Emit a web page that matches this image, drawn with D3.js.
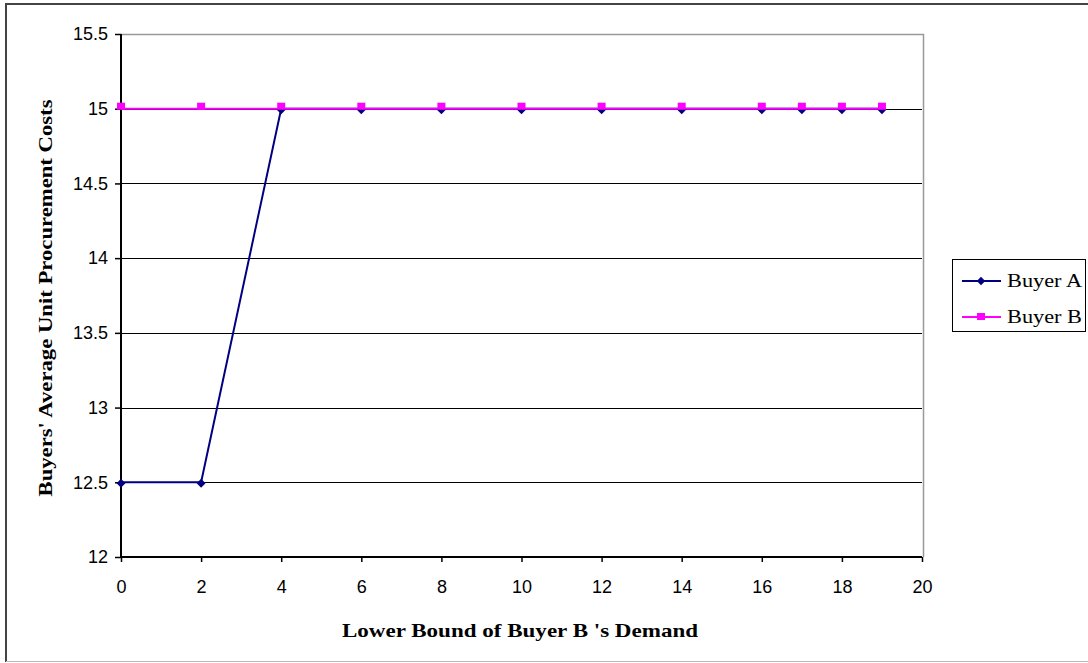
<!DOCTYPE html>
<html>
<head>
<meta charset="utf-8">
<script src="https://cdn.jsdelivr.net/npm/d3@7"></script>
<style>
  body { margin: 0; background: #fff; }
  svg { display: block; }
</style>
</head>
<body>
<div id="graph"></div>
<script>
// chart data
var xValues = [0, 2, 4, 6, 8, 10, 12, 14, 16, 17, 18, 19];
var buyerA = [12.5, 12.5, 15, 15, 15, 15, 15, 15, 15, 15, 15, 15];
var buyerB = [15, 15, 15, 15, 15, 15, 15, 15, 15, 15, 15, 15];
var seriesNames = ["Buyer A", "Buyer B"];
var xTicks = [0, 2, 4, 6, 8, 10, 12, 14, 16, 18, 20];
var yTicks = [12, 12.5, 13, 13.5, 14, 14.5, 15, 15.5];

var width = 1088;
var height = 663;
var plotL = 121, plotR = 922, plotT = 34, plotB = 557;

var svg = d3.select('#graph')
  .append('svg')
  .attr('width', width)
  .attr('height', height);

// outer frame
svg.append('line').attr('x1', 6).attr('x2', width).attr('y1', 4).attr('y2', 4)
  .attr('stroke', '#444').attr('stroke-width', 2);
svg.append('line').attr('x1', 6).attr('x2', 6).attr('y1', 3).attr('y2', 662)
  .attr('stroke', '#444').attr('stroke-width', 2);
svg.append('line').attr('x1', 6).attr('x2', width).attr('y1', 661.5).attr('y2', 661.5)
  .attr('stroke', '#bbb').attr('stroke-width', 1);

var x = d3.scaleLinear().domain([0, 20]).range([plotL, plotR]);
var y = d3.scaleLinear().domain([12, 15.5]).range([plotB, plotT]);

// plot area border (gray top/right)
svg.append('path')
  .attr('d', 'M' + plotL + ',' + (plotT + 0.5) + 'H' + (plotR + 1.5) + 'V' + plotB)
  .attr('fill', 'none').attr('stroke', '#999').attr('stroke-width', 1.5);

// gridlines
svg.append('g').selectAll('line')
  .data(yTicks.filter(function(d){ return d > 12 && d < 15.5; }))
  .enter().append('line')
  .attr('x1', plotL).attr('x2', plotR)
  .attr('y1', function(d){ return Math.round(y(d)) + 0.5; })
  .attr('y2', function(d){ return Math.round(y(d)) + 0.5; })
  .attr('stroke', '#000').attr('stroke-width', 1.2);

// axes
var xAxis = svg.append('g')
  .attr('transform', 'translate(0,' + plotB + ')')
  .call(d3.axisBottom(x).tickValues(xTicks).tickSize(5).tickPadding(18).tickFormat(d3.format('d')));
var yAxis = svg.append('g')
  .attr('transform', 'translate(' + plotL + ',0)')
  .call(d3.axisLeft(y).tickValues(yTicks).tickSize(6).tickPadding(7).tickFormat(function(d){ return String(d); }));

[xAxis, yAxis].forEach(function(g){
  g.attr('font-size', 18).attr('font-family', 'Liberation Sans, Arial, sans-serif');
  g.select('.domain').attr('stroke', '#000').attr('stroke-width', 2);
  g.selectAll('.tick line').attr('stroke', '#000').attr('stroke-width', 1.5);
  g.selectAll('.tick text').attr('fill', '#000');
});
xAxis.select('.domain').attr('d', 'M' + plotL + ',0H' + plotR);
yAxis.select('.domain').attr('d', 'M0,' + plotT + 'V' + plotB);

// series
var colors = ['#000080', '#FF00FF'];
var seriesData = [buyerA, buyerB];

var line = d3.line()
  .x(function(d, i){ return x(xValues[i]); })
  .y(function(d){ return y(d); });

seriesData.forEach(function(vals, s){
  svg.append('path')
    .datum(vals)
    .attr('d', line)
    .attr('fill', 'none')
    .attr('stroke', colors[s])
    .attr('stroke-width', 2);
});

// markers: diamonds for A, squares for B
svg.append('g').selectAll('path')
  .data(buyerA)
  .enter().append('path')
  .attr('d', d3.symbol().type(d3.symbolDiamond2).size(50))
  .attr('transform', function(d, i){ return 'translate(' + x(xValues[i]) + ',' + (y(d) + 1) + ')'; })
  .attr('fill', colors[0]);

svg.append('g').selectAll('rect')
  .data(buyerB)
  .enter().append('rect')
  .attr('x', function(d, i){ return x(xValues[i]) - 4; })
  .attr('y', function(d){ return y(d) - 6; })
  .attr('width', 8).attr('height', 7)
  .attr('fill', colors[1]);

// axis titles
svg.append('text')
  .attr('x', 520).attr('y', 637)
  .attr('text-anchor', 'middle')
  .attr('font-family', 'Liberation Serif, Times New Roman, serif')
  .attr('font-weight', 'bold')
  .attr('font-size', 19)
  .attr('textLength', 356)
  .attr('lengthAdjust', 'spacingAndGlyphs')
  .text("Lower Bound of Buyer B 's Demand");

svg.append('text')
  .attr('transform', 'translate(52,298) rotate(-90)')
  .attr('text-anchor', 'middle')
  .attr('font-family', 'Liberation Serif, Times New Roman, serif')
  .attr('font-weight', 'bold')
  .attr('font-size', 19)
  .attr('textLength', 397)
  .attr('lengthAdjust', 'spacingAndGlyphs')
  .text("Buyers' Average Unit Procurement Costs");

// legend
var legend = svg.append('g');
legend.append('rect')
  .attr('x', 952.5).attr('y', 259.5).attr('width', 133).attr('height', 72)
  .attr('fill', '#fff').attr('stroke', '#000').attr('stroke-width', 1);

var legY = [281, 317];
seriesNames.forEach(function(name, s){
  var g = legend.append('g');
  g.append('line')
    .attr('x1', 962).attr('x2', 1001)
    .attr('y1', legY[s]).attr('y2', legY[s])
    .attr('stroke', colors[s]).attr('stroke-width', 2);
  if (s === 0) {
    g.append('path')
      .attr('d', d3.symbol().type(d3.symbolDiamond2).size(45))
      .attr('transform', 'translate(981,' + legY[s] + ')')
      .attr('fill', colors[s]);
  } else {
    g.append('rect')
      .attr('x', 977).attr('y', legY[s] - 4).attr('width', 8).attr('height', 7)
      .attr('fill', colors[s]);
  }
  g.append('text')
    .attr('x', 1007).attr('y', legY[s] + 6)
    .attr('font-family', 'Liberation Serif, Times New Roman, serif')
    .attr('font-size', 18)
    .attr('textLength', 75)
    .attr('lengthAdjust', 'spacingAndGlyphs')
    .text(name);
});
</script>
</body>
</html>
